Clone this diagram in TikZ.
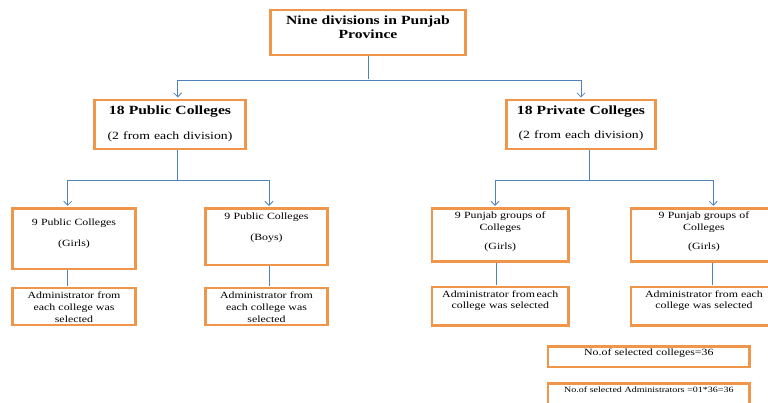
\documentclass[tikz,border=0pt]{standalone}
\usepackage{fontspec}
\setmainfont{Liberation Serif}[FakeStretch=1.25]
\usetikzlibrary{arrows.meta,positioning}
\definecolor{boxorange}{RGB}{240,150,75}
\definecolor{linkblue}{RGB}{79,129,189}
\tikzset{
  orangebox/.style={draw=boxorange, line width=2.6pt, fill=white, inner xsep=2pt, inner ysep=0pt, align=center, anchor=north},
  headfont/.style={font=\fontsize{12.5}{14.3}\selectfont\bfseries},
  subfont/.style={font=\fontsize{9.5}{11.6}\selectfont},
  notefont/.style={font=\fontsize{8}{10}\selectfont},
  link/.style={draw=linkblue, line width=0.8pt, shorten >=1.2pt},
  >={Straight Barb[length=4pt,width=8pt]}
}

\begin{document}
\begin{tikzpicture}[x=1pt,y=-1pt]
\useasboundingbox (0,0) rectangle (768,403);
% levels
\node[orangebox,headfont,text width=191.4pt,text height=14.6pt,text depth=30.5pt] (division) at (368,8.6) {Nine divisions in Punjab\\Province};
\node[orangebox,headfont,text width=146.8pt,text height=14.4pt,text depth=34.7pt] (pubcol) at (170,98.6) {18 Public Colleges\\[10.5pt]{\mdseries\fontsize{11}{14}\selectfont (2 from each division)}};
\node[orangebox,headfont,text width=145pt,text height=14.4pt,text depth=34.7pt] (pricol) at (581,98.6) {18 Private Colleges\\[9.5pt]{\mdseries\fontsize{11}{14}\selectfont (2 from each division)}};

\node[orangebox,subfont,text width=119.4pt,text height=16.9pt,text depth=43.8pt] (pubgirls) at (74,207) {9 Public Colleges\\[9.3pt](Girls)};
\node[orangebox,subfont,text width=118.4pt,text height=11.2pt,text depth=45.5pt] (pubboys) at (266.5,207) {9 Public Colleges\\[9pt](Boys)};
\node[orangebox,subfont,text width=132.7pt,text height=10.2pt,text depth=42.8pt] (prigirls) at (500.3,207) {9 Punjab groups of\\Colleges\\[8pt](Girls)};
\node[orangebox,subfont,text width=141.7pt,text height=10.2pt,text depth=42.8pt] (prigirlsb) at (704,207) {9 Punjab groups of\\Colleges\\[8pt](Girls)};

\node[orangebox,subfont,text width=119.4pt,text height=10.6pt,text depth=26.1pt,below=16.6pt of pubgirls] (pubgirlsadm) {Administrator from\\each college was\\selected};
\node[orangebox,subfont,text width=118.4pt,text height=10.6pt,text depth=26.1pt,below=20.6pt of pubboys] (pubboysadm) {Administrator from\\each college was\\selected};
\node[orangebox,subfont,text width=132.7pt,text height=9.9pt,text depth=28.1pt,below=23.3pt of prigirls] (prigirlsadm) {Administrator from\,each\\college was selected};
\node[orangebox,subfont,text width=141.7pt,text height=9.9pt,text depth=28.1pt,below=23.3pt of prigirlsb] (prigirlsbadm) {Administrator from each\\college was selected};

\node[orangebox,subfont,text width=197.8pt,text height=8.4pt,text depth=12pt] (colcount) at (648.8,345.3) {No.of selected colleges=36};
\node[orangebox,notefont,text width=197.8pt,text height=9.1pt,text depth=12.9pt,below=13.6pt of colcount] (admcount) {No.of selected Administrators =01*36=36};

% connectors
\draw[link] (division.south) -- ++(0,23.8) coordinate (split);
\draw[link,->] (split) -| ([xshift=7.7pt]pubcol.north);
\draw[link,->] (split) -| (pricol.north);
\draw[link] ([xshift=7.7pt]pubcol.south) -- ++(0,30.6) coordinate (pubsplit);
\draw[link,->] (pubsplit) -| ([xshift=-6.3pt]pubgirls.north);
\draw[link,->] (pubsplit) -| ([xshift=2.5pt]pubboys.north);
\draw[link] ([xshift=8.3pt]pricol.south) -- ++(0,30.6) coordinate (prisplit);
\draw[link,->] (prisplit) -| ([xshift=-5.3pt]prigirls.north);
\draw[link,->] (prisplit) -| ([xshift=9.3pt]prigirlsb.north);
\draw[link] ([xshift=-6.3pt]pubgirls.south) -- ([xshift=-6.3pt]pubgirlsadm.north);
\draw[link] ([xshift=2.8pt]pubboys.south) -- ([xshift=2.8pt]pubboysadm.north);
\draw[link] ([xshift=-4.3pt]prigirls.south) -- ([xshift=-4.3pt]prigirlsadm.north);
\draw[link] ([xshift=8.7pt]prigirlsb.south) -- ([xshift=8.7pt]prigirlsbadm.north);
\end{tikzpicture}
\end{document}
